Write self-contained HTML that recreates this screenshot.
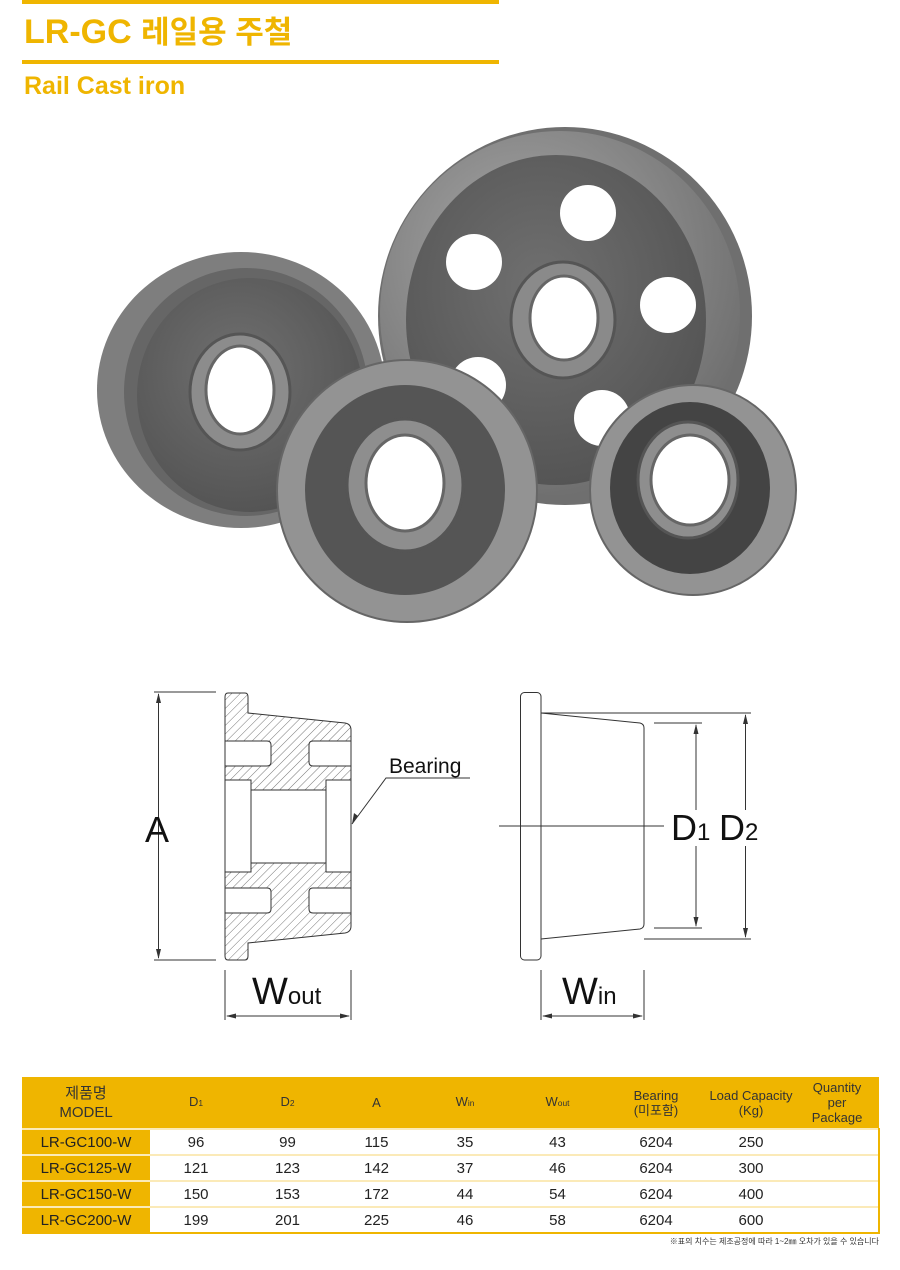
<!DOCTYPE html>
<html><head><meta charset="utf-8"><style>
body{margin:0;background:#fff;width:900px;height:1270px;position:relative;overflow:hidden;font-family:"Liberation Sans","Noto Sans CJK KR",sans-serif}
.abs{position:absolute}
table{position:absolute;left:22px;top:1077px;width:858px;border-collapse:collapse;font-family:"Liberation Sans","Noto Sans CJK KR",sans-serif;}
td{text-align:center;padding:0;color:#222;}
tr.h td{background:#efb500;height:51px;font-size:13px;line-height:15px;color:#333}
tr.r td{height:24px;font-size:15px;border-top:2px solid #fbeab8;background:#fff}
tr.r td:first-child{background:#efb500}
tr.r td:last-child{border-right:2px solid #efb500}
tr.r:last-child td{border-bottom:2px solid #efb500}
sub{font-size:65%;vertical-align:baseline}
</style></head><body>
<div class="abs" style="left:22px;top:0;width:477px;height:4px;background:#efb500"></div>
<div class="abs" style="left:24px;top:12px;font-size:34px;font-weight:bold;color:#efb500;line-height:40px">LR-GC <span style="font-size:31px">레일용 주철</span></div>
<div class="abs" style="left:22px;top:60px;width:477px;height:4px;background:#efb500"></div>
<div class="abs" style="left:24px;top:70px;font-size:25px;font-weight:bold;color:#efb500;line-height:32px">Rail Cast iron</div>

<svg class="abs" style="left:0;top:0" width="900" height="1270">
<defs>
<radialGradient id="rim" cx="40%" cy="35%" r="70%"><stop offset="0" stop-color="#a8a8a8"/><stop offset="1" stop-color="#6c6c6c"/></radialGradient>
<radialGradient id="face" cx="45%" cy="40%" r="70%"><stop offset="0" stop-color="#707070"/><stop offset="1" stop-color="#505050"/></radialGradient>
<pattern id="hat" width="6" height="6" patternUnits="userSpaceOnUse" patternTransform="rotate(45)"><rect width="6" height="6" fill="#fff"/><line x1="0" y1="0" x2="0" y2="6" stroke="#777" stroke-width="1"/></pattern>
</defs>
<!-- big wheel -->
<ellipse cx="565" cy="316" rx="187" ry="189" fill="#6f6f6f"/>
<ellipse cx="560" cy="313" rx="180" ry="182" fill="url(#rim)"/>
<ellipse cx="556" cy="320" rx="150" ry="165" fill="url(#face)"/>
<g fill="#fff"><circle cx="588" cy="213" r="28"/><circle cx="474" cy="262" r="28"/><circle cx="668" cy="305" r="28"/><circle cx="478" cy="385" r="28"/><circle cx="602" cy="418" r="28"/></g>
<ellipse cx="563" cy="320" rx="52" ry="58" fill="#8a8a8a" stroke="#555" stroke-width="3"/>
<ellipse cx="564" cy="318" rx="34" ry="42" fill="#fff" stroke="#666" stroke-width="3"/>
<!-- left wheel -->
<ellipse cx="241" cy="390" rx="144" ry="138" fill="#7e7e7e"/>
<ellipse cx="246" cy="392" rx="122" ry="124" fill="#666"/>
<ellipse cx="250" cy="395" rx="113" ry="117" fill="url(#face)"/>
<ellipse cx="240" cy="392" rx="50" ry="58" fill="#8c8c8c" stroke="#555" stroke-width="3"/>
<ellipse cx="240" cy="390" rx="34" ry="44" fill="#fff" stroke="#666" stroke-width="3"/>
<!-- middle -->
<ellipse cx="407" cy="491" rx="130" ry="131" fill="#939393" stroke="#666" stroke-width="2"/>
<ellipse cx="405" cy="490" rx="100" ry="105" fill="#555"/>
<ellipse cx="405" cy="485" rx="58" ry="66" fill="#8e8e8e" stroke="#555" stroke-width="3"/>
<ellipse cx="405" cy="483" rx="39" ry="48" fill="#fff" stroke="#666" stroke-width="3"/>
<!-- small right -->
<ellipse cx="693" cy="490" rx="103" ry="105" fill="#939393" stroke="#666" stroke-width="2"/>
<ellipse cx="690" cy="488" rx="80" ry="86" fill="#444"/>
<ellipse cx="688" cy="480" rx="50" ry="58" fill="#8e8e8e" stroke="#555" stroke-width="3"/>
<ellipse cx="690" cy="480" rx="39" ry="45" fill="#fff" stroke="#666" stroke-width="3"/>

<!-- left section drawing -->
<g stroke="#333" stroke-width="1" fill="url(#hat)">
<path d="M228,693 L245,693 Q248,693 248,697 L248,713 L345,723 Q351,724 351,730 L351,926 Q351,932 345,933 L248,943 L248,956 Q248,960 245,960 L228,960 Q225,960 225,956 L225,697 Q225,693 228,693 Z"/>
</g>
<g stroke="#333" stroke-width="1" fill="#fff">
<path d="M225,741 L267,741 Q271,741 271,745 L271,762 Q271,766 267,766 L225,766 Z"/>
<path d="M351,741 L313,741 Q309,741 309,745 L309,762 Q309,766 313,766 L351,766 Z"/>
<path d="M225,888 L267,888 Q271,888 271,892 L271,909 Q271,913 267,913 L225,913 Z"/>
<path d="M351,888 L313,888 Q309,888 309,892 L309,909 Q309,913 313,913 L351,913 Z"/>
<rect x="225" y="780" width="26" height="92"/>
<rect x="326" y="780" width="25" height="92"/>
<rect x="251" y="790" width="75" height="73"/>
</g>
<g stroke="#333" stroke-width="1" fill="none">
<line x1="154" y1="692" x2="216" y2="692"/><line x1="154" y1="960" x2="216" y2="960"/>
<line x1="158.5" y1="694" x2="158.5" y2="958"/>
<line x1="225" y1="970" x2="225" y2="1020"/><line x1="351" y1="970" x2="351" y2="1020"/>
<line x1="227" y1="1016" x2="349" y2="1016"/>
<polyline points="352,824 386,778 470,778"/>
<rect x="520.5" y="692.5" width="20.5" height="267.5" rx="4"/>
<path d="M541,713 L640,723 Q644,724 644,728 L644,924 Q644,928 640,929 L541,939"/>
<line x1="541" y1="713" x2="751" y2="713"/><line x1="644" y1="939" x2="751" y2="939"/>
<line x1="654" y1="723" x2="702" y2="723"/><line x1="654" y1="928" x2="702" y2="928"/>
<line x1="745.5" y1="715" x2="745.5" y2="810"/><line x1="745.5" y1="846" x2="745.5" y2="937"/>
<line x1="696" y1="725" x2="696" y2="810"/><line x1="696" y1="846" x2="696" y2="926"/>
<line x1="499" y1="826" x2="664" y2="826"/>
<line x1="541" y1="970" x2="541" y2="1020"/><line x1="644" y1="970" x2="644" y2="1020"/>
<line x1="543" y1="1016" x2="642" y2="1016"/>
</g>
<g fill="#333">
<path d="M158.5,693 l-2.5,10 h5z"/><path d="M158.5,959 l-2.5,-10 h5z"/>
<path d="M226,1016 l10,-2.5 v5z"/><path d="M350,1016 l-10,-2.5 v5z"/>
<path d="M352,824 l2,-11 l4,3z"/>
<path d="M745.5,714 l-2.5,10 h5z"/><path d="M745.5,938 l-2.5,-10 h5z"/>
<path d="M696,724 l-2.5,10 h5z"/><path d="M696,927 l-2.5,-10 h5z"/>
<path d="M542,1016 l10,-2.5 v5z"/><path d="M643,1016 l-10,-2.5 v5z"/>
</g>
<g font-family="Liberation Sans,sans-serif" fill="#111">
<text x="389" y="773" font-size="21">Bearing</text>
<text x="145" y="842" font-size="36">A</text>
<text x="252" y="1004" font-size="38">W<tspan font-size="24">out</tspan></text>
<text x="562" y="1004" font-size="38">W<tspan font-size="24">in</tspan></text>
<text x="671" y="840" font-size="36">D<tspan font-size="24">1</tspan></text>
<text x="719" y="840" font-size="36">D<tspan font-size="24">2</tspan></text>
</g>
</svg>

<table>
<tr class="h"><td style="width:128px;font-size:15px;line-height:19px">제품명<br>MODEL</td><td style="width:92px">D<sub>1</sub></td><td style="width:91px">D<sub>2</sub></td><td style="width:87px">A</td><td style="width:90px">W<sub>in</sub></td><td style="width:95px">W<sub>out</sub></td><td style="width:102px">Bearing<br>(미포함)</td><td style="width:88px">Load Capacity<br>(Kg)</td><td>Quantity<br>per<br>Package</td></tr>
<tr class="r"><td>LR-GC100-W</td><td>96</td><td>99</td><td>115</td><td>35</td><td>43</td><td>6204</td><td>250</td><td></td></tr>
<tr class="r"><td>LR-GC125-W</td><td>121</td><td>123</td><td>142</td><td>37</td><td>46</td><td>6204</td><td>300</td><td></td></tr>
<tr class="r"><td>LR-GC150-W</td><td>150</td><td>153</td><td>172</td><td>44</td><td>54</td><td>6204</td><td>400</td><td></td></tr>
<tr class="r"><td>LR-GC200-W</td><td>199</td><td>201</td><td>225</td><td>46</td><td>58</td><td>6204</td><td>600</td><td></td></tr>
</table>
<div class="abs" style="right:21px;top:1236px;font-size:8px;color:#333">※표의 치수는 제조공정에 따라 1~2㎜ 오차가 있을 수 있습니다</div>
</body></html>
